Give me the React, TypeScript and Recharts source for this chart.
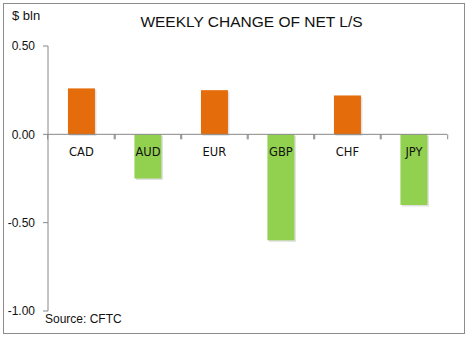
import { BarChart, Bar, XAxis, YAxis, ReferenceLine, Cell, LabelList } from "recharts";

// Weekly change of net long/short positions, $ bln
const currencies = ["CAD", "AUD", "EUR", "GBP", "CHF", "JPY"];
const changes = [0.26, -0.25, 0.25, -0.6, 0.22, -0.4];
const yTicks = [0.5, 0, -0.5, -1];

const data = currencies.map((c, i) => ({ name: c, value: changes[i] }));

const FONT = "'Liberation Sans', 'Open Sans', sans-serif";
const ORANGE = "#E46C0A";
const GREEN = "#92D050";

const zeroOf = (y: number, height: number, v: number) => {
  const top = Math.min(y, y + height);
  const bottom = Math.max(y, y + height);
  return v < 0 ? top : bottom;
};

// category label under the zero line, plus Excel-style boundary ticks
const CategoryLabel = (props: any) => {
  const { x, y, width, height, value, index } = props;
  const xs = Number(x);
  const w = Number(width);
  const zero = zeroOf(Number(y), Number(height), changes[index]);
  const cx = xs + w / 2;
  const half = w / 0.8;
  return (
    <g>
      <rect x={cx - half - 0.5} y={zero} width={1} height={5} fill="#888" />
      <rect x={cx + half - 0.5} y={zero} width={1} height={5} fill="#888" />
      <text
        x={cx}
        y={zero + 22}
        textAnchor="middle"
        fontSize={11.5}
        fontFamily="'DejaVu Sans', sans-serif"
        fill="#111"
      >
        {value}
      </text>
    </g>
  );
};

// bar with a faint drop shadow
const BarShape = (props: any) => {
  const { x, y, width, height, fill } = props;
  const top = Math.min(y, y + height);
  const h = Math.abs(height);
  return (
    <g>
      <rect x={x + 1.5} y={top + 1.5} width={width} height={h} fill="#000" opacity={0.12} />
      <rect x={x} y={top} width={width} height={h} fill={fill} />
    </g>
  );
};

export default function App() {
  return (
    <div style={{ position: "absolute", left: 0, top: 0, width: 467, height: 337, background: "#fff" }}>
      <div
        style={{
          position: "absolute",
          left: 3,
          top: 3,
          width: 460,
          height: 329,
          border: "1px solid #8c8c8c",
        }}
      />
      <div style={{ position: "absolute", left: 12, top: 8, fontFamily: FONT, fontSize: 13, color: "#111" }}>
        $ bln
      </div>
      <div
        style={{
          position: "absolute",
          left: 0,
          width: 467,
          top: 13,
          paddingLeft: 36,
          boxSizing: "border-box",
          textAlign: "center",
          fontFamily: FONT,
          fontSize: 15.5,
          color: "#111",
        }}
      >
        WEEKLY CHANGE OF NET L/S
      </div>
      <div style={{ position: "absolute", left: 45, top: 312, fontFamily: FONT, fontSize: 12, color: "#111" }}>
        Source: CFTC
      </div>
      <div style={{ position: "absolute", left: 0, top: 0 }}>
        <BarChart
          width={467}
          height={337}
          data={data}
          margin={{ top: 46, right: 20, bottom: 26, left: 0 }}
          barCategoryGap="30%"
        >
          <XAxis dataKey="name" hide />
          <YAxis
            width={48}
            domain={[-1, 0.5]}
            ticks={yTicks}
            tickFormatter={(v: number) => v.toFixed(2)}
            stroke="#888"
            tickSize={5}
            tickMargin={8}
            tick={{ fill: "#111", fontSize: 12, fontFamily: FONT }}
          />
          <ReferenceLine y={0} stroke="#888" strokeWidth={1} />
          <Bar dataKey="value" isAnimationActive={false} shape={BarShape}>
            {data.map((d) => (
              <Cell key={d.name} fill={d.value >= 0 ? ORANGE : GREEN} />
            ))}
            <LabelList dataKey="name" content={CategoryLabel} />
          </Bar>
        </BarChart>
      </div>
    </div>
  );
}
